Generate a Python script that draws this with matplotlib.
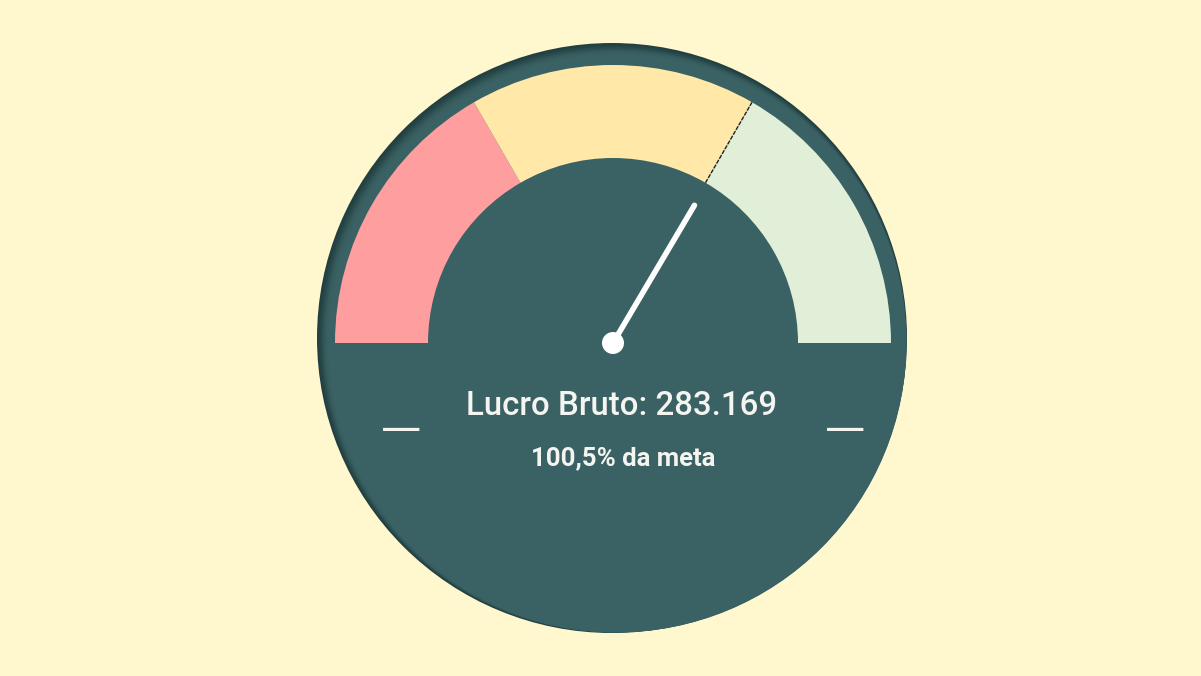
import numpy as np
import matplotlib
matplotlib.use("Agg")
import matplotlib.pyplot as plt
from matplotlib.patches import Wedge, Circle

# ---- data ----
lucro_bruto = 283169
pct_meta = 100.5
meta = lucro_bruto / (pct_meta / 100.0)
band_edges = [0.0, 0.5 * meta, 1.0 * meta, 1.5 * meta]   # red / yellow / green
band_colors = ["#FF9E9E", "#FFE8A8", "#E1EED8"]
gauge_min = band_edges[0]
gauge_max = band_edges[-1]
title_text = "Lucro Bruto: 283.169"
sub_text = "100,5% da meta"
min_label = "—"
max_label = "—"

BG = "#FFF7CE"
DIAL = "#3A6163"
DIAL_DARK = "#223F41"

W, H = 1201, 676
fig = plt.figure(figsize=(W / 100, H / 100), dpi=100, facecolor=BG)
ax = fig.add_axes([0, 0, 1, 1])
ax.set_xlim(0, W)
ax.set_ylim(0, H)
ax.set_aspect("equal")
ax.axis("off")
ax.set_facecolor(BG)

# dial geometry (pixel space)
cx, cy = 613, H - 343          # pivot
dcx, dcy, dr = 612, H - 338, 295  # outer disc
r_out, r_in = 278, 185


def ang(v):
    return 180.0 - 180.0 * (v - gauge_min) / (gauge_max - gauge_min)


# outer disc with soft inset shadow on upper-left
ax.add_patch(Circle((dcx, dcy), dr, color=DIAL_DARK, zorder=1, lw=0))
alphas = [0.2, 0.3, 0.45, 0.6, 0.8, 1.0]
for i, a in enumerate(alphas):
    off = 0.8 + i * 0.9
    ax.add_patch(Circle((dcx + off, dcy - off), dr - off - 0.6, color=DIAL,
                        alpha=a, zorder=2 + i, lw=0))

# bands
for lo, hi, col in zip(band_edges[:-1], band_edges[1:], band_colors):
    ax.add_patch(Wedge((cx, cy), r_out, ang(hi), ang(lo), width=r_out - r_in,
                       facecolor=col, edgecolor="none", zorder=10))

# target marker
ta = np.deg2rad(ang(meta))
ax.plot([cx + r_in * np.cos(ta), cx + r_out * np.cos(ta)],
        [cy + r_in * np.sin(ta), cy + r_out * np.sin(ta)],
        color="#222222", lw=1.0, ls=(0, (3, 1)), zorder=11)

# needle
na = np.deg2rad(ang(lucro_bruto))
r_needle = 160
ax.plot([cx, cx + r_needle * np.cos(na)], [cy, cy + r_needle * np.sin(na)],
        color="white", lw=4.0, solid_capstyle="round", zorder=20)
ax.add_patch(Circle((cx, cy), 11, color="white", zorder=21, lw=0))

# texts
ax.text(622, H - 406, title_text, ha="center", va="center", color="#F4F4F0",
        fontsize=23.8, fontfamily="Roboto", fontweight="medium", zorder=30)
ax.text(623, H - 458, sub_text, ha="center", va="center", color="#F4F4F0",
        fontsize=18.5, fontfamily="Roboto", fontweight="bold", zorder=30)
ax.text(401, H - 430, min_label, ha="center", va="center", color="#F4F4F0",
        fontsize=29, fontfamily="DejaVu Sans", zorder=30)
ax.text(845, H - 430, max_label, ha="center", va="center", color="#F4F4F0",
        fontsize=29, fontfamily="DejaVu Sans", zorder=30)

fig.savefig("out.png", dpi=100, facecolor=BG)
